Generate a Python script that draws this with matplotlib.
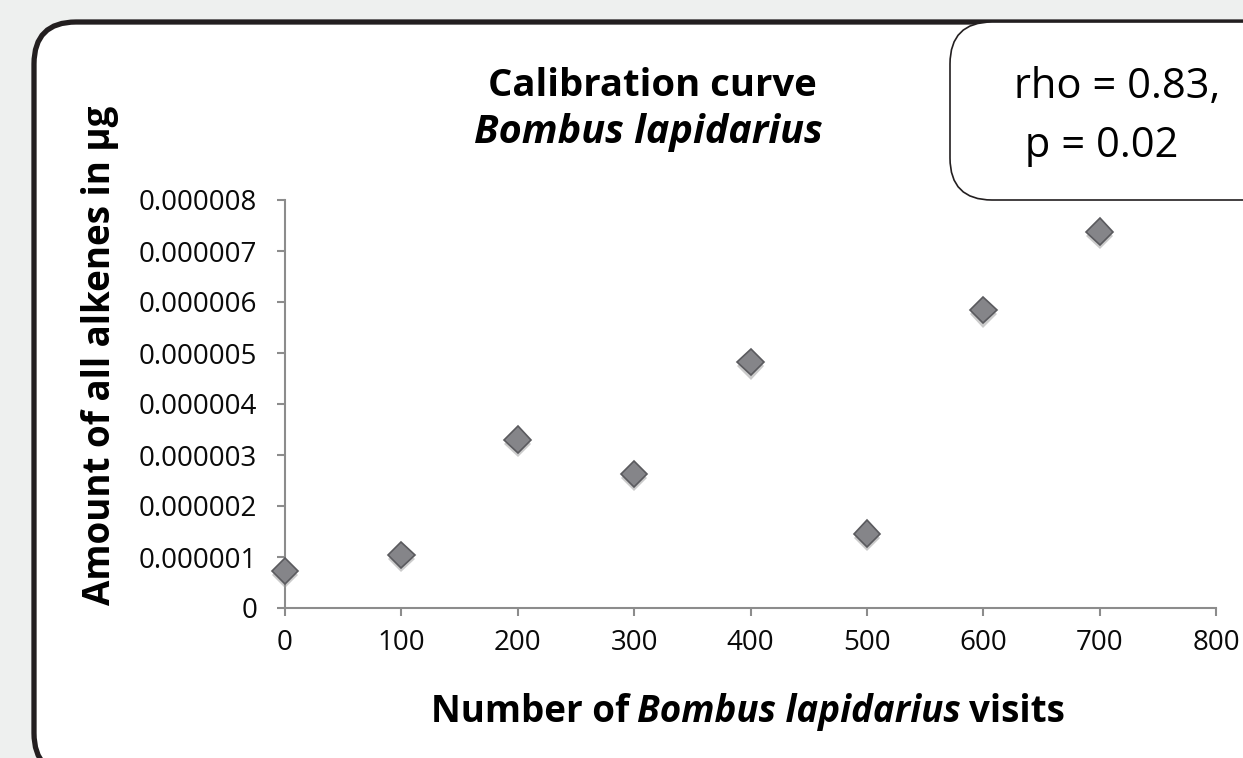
import numpy as np
import matplotlib.pyplot as plt
from matplotlib.patches import FancyBboxPatch
import matplotlib.patheffects as pe

plt.rcParams['font.family'] = ['Open Sans', 'DejaVu Sans']

# data
visits = [0, 100, 200, 300, 400, 500, 600, 700]
alkenes = [0.73e-6, 1.04e-6, 3.30e-6, 2.63e-6, 4.82e-6, 1.46e-6, 5.84e-6, 7.38e-6]
xticks = [0, 100, 200, 300, 400, 500, 600, 700, 800]
yticks = [0, 1e-6, 2e-6, 3e-6, 4e-6, 5e-6, 6e-6, 7e-6, 8e-6]
ytick_labels = ['0', '0.000001', '0.000002', '0.000003', '0.000004',
                '0.000005', '0.000006', '0.000007', '0.000008']

W, H = 1243, 758
fig = plt.figure(figsize=(W / 100, H / 100), dpi=100, facecolor='#eef0ef')

# white panel with thick rounded border (pixel coords)
panel = FancyBboxPatch((34, -17), 1300, 753, boxstyle='round,pad=0,rounding_size=42',
                       transform=None, facecolor='white', edgecolor='#231f20', lw=3.8,
                       zorder=-2)
fig.patches.append(panel)

# stats box in the top right
box = FancyBboxPatch((950, 558), 400, 178, boxstyle='round,pad=0,rounding_size=42',
                     transform=None, facecolor='white', edgecolor='#231f20', lw=1.2,
                     zorder=-1)
fig.patches.append(box)
fig.text(1014 / W, 1 - 98 / H, 'rho = 0.83,', fontsize=30, va='baseline', ha='left')
fig.text(1014 / W, 1 - 157 / H, ' p = 0.02', fontsize=30, va='baseline', ha='left')

ax = fig.add_axes([285 / W, 1 - 608 / H, (1216 - 285) / W, (608 - 200) / H])
ax.set_zorder(2)
ax.set_facecolor('none')
ax.plot(visits, alkenes, linestyle='none', marker='D', markersize=13.5,
        markerfacecolor='#858589', markeredgecolor='#5a5a5e', markeredgewidth=1.2,
        clip_on=False, zorder=3,
        path_effects=[pe.SimplePatchShadow(offset=(0, -3), shadow_rgbFace='#999999', alpha=0.5),
                      pe.Normal()])

ax.set_xlim(0, 800)
ax.set_ylim(0, 8e-6)
ax.set_xticks(xticks)
ax.set_xticklabels([str(v) for v in xticks])
ax.set_yticks(yticks)
ax.set_yticklabels(ytick_labels)
for s in ['top', 'right']:
    ax.spines[s].set_visible(False)
for s in ['left', 'bottom']:
    ax.spines[s].set_color('#8c8c8c')
    ax.spines[s].set_linewidth(1.5)
ax.tick_params(direction='out', length=6, width=1.5, color='#8c8c8c',
               labelsize=20, labelcolor='#0a0a0a')
ax.tick_params(axis='x', pad=9)
ax.tick_params(axis='y', pad=14)

# title
fig.text(652 / W, 1 - 96 / H, 'Calibration curve', fontsize=27.5, weight='bold',
         ha='center', va='baseline')
fig.text(648 / W, 1 - 143 / H, 'Bombus lapidarius', fontsize=28.5, weight='bold',
         style='italic', ha='center', va='baseline')

# y label
fig.text(100 / W, 1 - 355 / H, 'Amount of all alkenes in µg', fontsize=26.5,
         weight='bold', rotation=90, ha='center', va='center')

# x label with italic species name, pieces laid out side by side
fig.canvas.draw()
r = fig.canvas.get_renderer()
parts = [('Number of', 'normal'), ('Bombus lapidarius', 'italic'), ('visits', 'normal')]
texts = [fig.text(0, 1 - 722 / H, p, fontsize=26.5, weight='bold', style=st,
                  ha='left', va='baseline') for p, st in parts]
widths = [t.get_window_extent(r).width for t in texts]
gap = 8
total = sum(widths) + gap * (len(widths) - 1)
x0 = 748 - total / 2
for t, w in zip(texts, widths):
    t.set_x(x0 / W)
    x0 += w + gap

fig.savefig('out.png', dpi=100, facecolor=fig.get_facecolor())
